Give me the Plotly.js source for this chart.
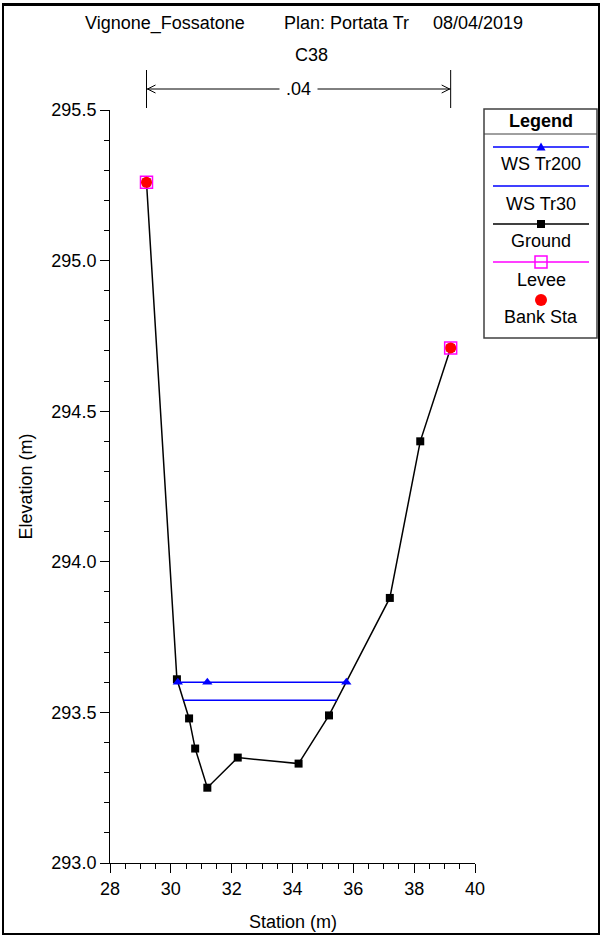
<!DOCTYPE html>
<html>
<head>
<meta charset="utf-8">
<script src="https://cdn.plot.ly/plotly-3.0.1.min.js"></script>
<style>
  html, body { margin: 0; padding: 0; background: #ffffff; }
  #wrap { position: relative; width: 600px; height: 935px; }
  #chart { position: absolute; left: 0; top: 0; width: 600px; height: 935px; }
  #frame { position: absolute; left: 2px; top: 3px; width: 598px; height: 932px;
           border: 2px solid #000; border-top-width: 3px; box-sizing: border-box; pointer-events: none; }
</style>
</head>
<body>
<div id="wrap"><div id="chart"></div><div id="frame"></div></div>
<script>
// ---- data ----
const groundStation = [29.2, 30.2, 30.6, 30.8, 31.2, 32.2, 34.2, 35.2, 37.2, 38.2, 39.2];
const groundElev    = [295.26, 293.61, 293.48, 293.38, 293.25, 293.35, 293.33, 293.49, 293.88, 294.40, 294.71];
const wsTr200Station = [30.23, 31.2, 35.77];
const wsTr200Elev    = [293.60, 293.60, 293.60];
const wsTr30Station  = [30.42, 35.46];
const wsTr30Elev     = [293.54, 293.54];
const leveeStation = [29.2, 39.2];
const leveeElev    = [295.26, 294.71];
const bankStation  = [29.2, 39.2];
const bankElev     = [295.26, 294.71];
const manningN     = ".04";
const titleParts   = ["Vignone_Fossatone", "Plan: Portata Tr", "08/04/2019"];
const sectionName  = "C38";
const legendNames  = ["WS Tr200", "WS Tr30", "Ground", "Levee", "Bank Sta"];

// ---- geometry helpers (pixel -> paper) ----
const L = 110, R = 475, T = 110, B = 863;
const px = v => (v - L) / (R - L);
const py = v => (B - v) / (B - T);
const FONT = "Liberation Sans, Arial, sans-serif";

const traces = [
  { x: groundStation, y: groundElev, mode: "lines+markers", name: "Ground",
    line: { color: "#000000", width: 1.5 },
    marker: { symbol: "square", size: 8, color: "#000000" } },
  { x: leveeStation, y: leveeElev, mode: "markers", name: "Levee",
    marker: { symbol: "square-open", size: 12, color: "#ff00ff", line: { width: 1.5 } } },
  { x: bankStation, y: bankElev, mode: "markers", name: "Bank Sta",
    marker: { symbol: "circle", size: 11, color: "#ff0000" } },
  { x: wsTr30Station, y: wsTr30Elev, mode: "lines", name: "WS Tr30",
    line: { color: "#0000ff", width: 1.5 } },
  { x: wsTr200Station, y: wsTr200Elev, mode: "lines+markers", name: "WS Tr200",
    line: { color: "#0000ff", width: 1.5 },
    marker: { symbol: "triangle-up", size: 9, color: "#0000ff" } }
];

const dimY = py(89);
const shapes = [
  { type: "line", xref: "x", yref: "paper", x0: bankStation[0], x1: bankStation[0], y0: py(70), y1: py(108), line: { color: "#000", width: 1 } },
  { type: "line", xref: "x", yref: "paper", x0: bankStation[1], x1: bankStation[1], y0: py(70), y1: py(108), line: { color: "#000", width: 1 } },
  { type: "line", xref: "x", yref: "paper", x0: bankStation[0], x1: bankStation[1], y0: dimY, y1: dimY, line: { color: "#000", width: 1 } },
  { type: "path", xref: "x", yref: "paper", xsizemode: "pixel", ysizemode: "pixel", xanchor: bankStation[0], yanchor: dimY,
    path: "M9,-4L1,0L9,4", line: { color: "#000", width: 1 } },
  { type: "path", xref: "x", yref: "paper", xsizemode: "pixel", ysizemode: "pixel", xanchor: bankStation[1], yanchor: dimY,
    path: "M-9,-4L-1,0L-9,4", line: { color: "#000", width: 1 } },
  // legend box
  { type: "rect", xref: "paper", yref: "paper", x0: px(484), x1: px(597), y0: py(338), y1: py(109),
    line: { color: "#404040", width: 1.5 }, fillcolor: "#ffffff", layer: "below" },
  { type: "line", xref: "paper", yref: "paper", x0: px(484), x1: px(597), y0: py(134), y1: py(134),
    line: { color: "#404040", width: 1 } }
];

const legX0 = px(493), legX1 = px(589), legXc = px(541);
const legLineY = [147, 186, 224, 262];
const legLineCol = ["#0000ff", "#0000ff", "#000000", "#ff00ff"];
legLineY.forEach((yy, i) => {
  shapes.push({ type: "line", xref: "paper", yref: "paper", x0: legX0, x1: legX1, y0: py(yy), y1: py(yy),
    line: { color: legLineCol[i], width: 1.5 } });
});
// legend glyphs
shapes.push({ type: "path", xref: "paper", yref: "paper", xsizemode: "pixel", ysizemode: "pixel",
  xanchor: legXc, yanchor: py(147), path: "M-4.5,-3.5L4.5,-3.5L0,4.5Z", fillcolor: "#0000ff", line: { width: 0 } });
shapes.push({ type: "rect", xref: "paper", yref: "paper", xsizemode: "pixel", ysizemode: "pixel",
  xanchor: legXc, yanchor: py(224), x0: -4, x1: 4, y0: -4, y1: 4, fillcolor: "#000000", line: { width: 0 } });
shapes.push({ type: "rect", xref: "paper", yref: "paper", xsizemode: "pixel", ysizemode: "pixel",
  xanchor: legXc, yanchor: py(262), x0: -6, x1: 6, y0: -6, y1: 6, fillcolor: "rgba(0,0,0,0)", line: { color: "#ff00ff", width: 1.5 } });
shapes.push({ type: "circle", xref: "paper", yref: "paper", xsizemode: "pixel", ysizemode: "pixel",
  xanchor: legXc, yanchor: py(300), x0: -6, x1: 6, y0: -6, y1: 6, fillcolor: "#ff0000", line: { width: 0 } });

const txt = { family: FONT, size: 18, color: "#000" };
const annotations = [
  { text: titleParts[0], xref: "paper", yref: "paper", x: px(83), y: py(23), xanchor: "left", yanchor: "middle", showarrow: false, font: txt },
  { text: titleParts[1], xref: "paper", yref: "paper", x: px(282), y: py(23), xanchor: "left", yanchor: "middle", showarrow: false, font: txt },
  { text: titleParts[2], xref: "paper", yref: "paper", x: px(431), y: py(23), xanchor: "left", yanchor: "middle", showarrow: false, font: txt },
  { text: sectionName, xref: "paper", yref: "paper", x: px(311), y: py(55), xanchor: "center", yanchor: "middle", showarrow: false, font: txt },
  { text: manningN, xref: "x", yref: "paper", x: (bankStation[0] + bankStation[1]) / 2, y: dimY, xanchor: "center", yanchor: "middle",
    showarrow: false, font: txt, bgcolor: "#ffffff", borderpad: 6 },
  { text: "Station (m)", xref: "paper", yref: "paper", x: 0.5, y: py(922), xanchor: "center", yanchor: "middle", showarrow: false, font: txt },
  { text: "Elevation (m)", xref: "paper", yref: "paper", x: px(25), y: 0.5, xanchor: "center", yanchor: "middle", textangle: -90, showarrow: false, font: txt },
  { text: "<b>Legend</b>", xref: "paper", yref: "paper", x: legXc, y: py(121), xanchor: "center", yanchor: "middle", showarrow: false, font: txt }
];
const legTextY = [164, 204, 241, 280, 317];
legendNames.forEach((n, i) => {
  annotations.push({ text: n, xref: "paper", yref: "paper", x: legXc, y: py(legTextY[i]), xanchor: "center", yanchor: "middle",
    showarrow: false, font: txt });
});

const layout = {
  width: 600, height: 935, autosize: false,
  margin: { l: L, r: 600 - R, t: T, b: 935 - B, pad: 0 },
  paper_bgcolor: "#ffffff", plot_bgcolor: "#ffffff",
  showlegend: false,
  font: txt,
  xaxis: {
    range: [28, 40], dtick: 2, tick0: 28, ticks: "outside", ticklen: 9, tickwidth: 1, tickcolor: "#000",
    showline: true, linecolor: "#000", linewidth: 1, showgrid: false, zeroline: false,
    tickfont: txt, fixedrange: true,
    minor: { dtick: 0.5, ticks: "outside", ticklen: 5, tickwidth: 1, tickcolor: "#000", showgrid: false }
  },
  yaxis: {
    range: [293.0, 295.5], dtick: 0.5, tick0: 293, tickformat: ".1f", ticks: "outside", ticklen: 9, tickwidth: 1, tickcolor: "#000",
    showline: true, linecolor: "#000", linewidth: 1, showgrid: false, zeroline: false,
    tickfont: txt, fixedrange: true,
    minor: { dtick: 0.1, ticks: "outside", ticklen: 5, tickwidth: 1, tickcolor: "#000", showgrid: false }
  },
  shapes: shapes,
  annotations: annotations
};

Plotly.newPlot("chart", traces, layout, { staticPlot: true, displayModeBar: false });
</script>
</body>
</html>
